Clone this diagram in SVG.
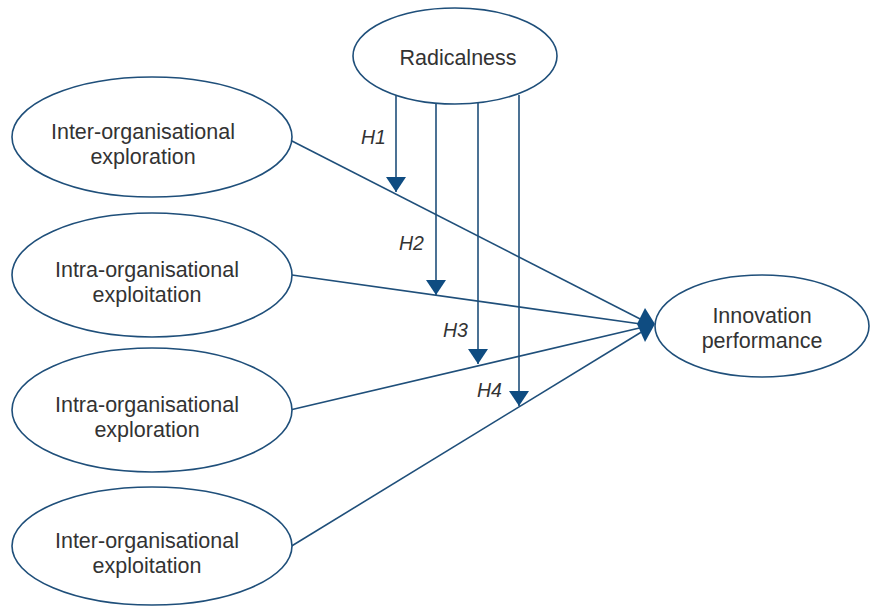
<svg xmlns="http://www.w3.org/2000/svg" width="871" height="607" viewBox="0 0 871 607">
<style>
.node ellipse{fill:#fff;stroke:#1f4f7a;stroke-width:1.6}
.node text{font-family:"Liberation Sans",Arial,sans-serif;font-size:21.5px;fill:#333;text-anchor:middle}
.conn line{stroke:#1f4f7a;stroke-width:1.6}
.lbl{font-family:"Liberation Sans",Arial,sans-serif;font-size:19.5px;font-style:italic;fill:#333}
.head{fill:#0f4c81}
</style>
<defs>
<marker id="tri" markerUnits="userSpaceOnUse" markerWidth="22" markerHeight="18" viewBox="0 0 22 18" refX="11" refY="16" orient="0">
<polygon points="1,1 21,1 11,16" class="head"/>
</marker>
</defs>
<rect width="871" height="607" fill="#fff"/>
<g id="connectors" class="conn">
<line x1="290" y1="140" x2="648" y2="323"/>
<line x1="292" y1="275" x2="648" y2="325"/>
<line x1="290" y1="410" x2="648" y2="326"/>
<line x1="290" y1="547" x2="648" y2="328"/>
<line x1="396" y1="95" x2="396" y2="192" marker-end="url(#tri)"/>
<line x1="436" y1="100" x2="436" y2="295" marker-end="url(#tri)"/>
<line x1="478" y1="100" x2="478" y2="364" marker-end="url(#tri)"/>
<line x1="519" y1="95" x2="519" y2="406" marker-end="url(#tri)"/>
<polygon class="head" points="645,308 655,324 645,342 637,324"/>
<text class="lbl" x="361" y="144">H1</text>
<text class="lbl" x="399" y="250">H2</text>
<text class="lbl" x="443" y="337">H3</text>
<text class="lbl" x="477" y="397">H4</text>
</g>
<g id="radicalness" class="node">
<ellipse cx="455" cy="56" rx="102" ry="48"/>
<text x="458" y="65">Radicalness</text>
</g>
<g id="inter-exploration" class="node">
<ellipse cx="152" cy="137" rx="140" ry="60"/>
<text x="143" y="139">Inter-organisational</text>
<text x="143" y="164">exploration</text>
</g>
<g id="intra-exploitation" class="node">
<ellipse cx="152" cy="275" rx="140" ry="62"/>
<text x="147" y="277">Intra-organisational</text>
<text x="147" y="302">exploitation</text>
</g>
<g id="intra-exploration" class="node">
<ellipse cx="152" cy="410" rx="140" ry="62"/>
<text x="147" y="412">Intra-organisational</text>
<text x="147" y="437">exploration</text>
</g>
<g id="inter-exploitation" class="node">
<ellipse cx="152" cy="546" rx="140" ry="59"/>
<text x="147" y="548">Inter-organisational</text>
<text x="147" y="573">exploitation</text>
</g>
<g id="innovation-performance" class="node">
<ellipse cx="762" cy="326" rx="107" ry="51"/>
<text x="762" y="323">Innovation</text>
<text x="762" y="348">performance</text>
</g>
</svg>
